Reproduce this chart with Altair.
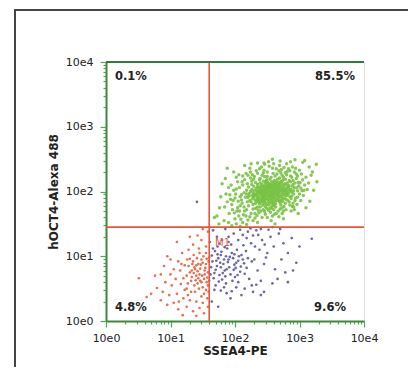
import math
import altair as alt
import pandas as pd

# ---- data (log10 fluorescence units) ----
green_pts = [
(2.31,1.95),(2.47,2.02),(2.62,1.88),(2.55,2.11),(2.38,1.81),(2.71,2.05),(2.44,1.92),(2.58,1.97),(2.66,2.14),(2.35,2.07),
(2.52,1.84),(2.79,1.99),(2.49,2.18),(2.27,1.89),(2.60,2.03),(2.73,1.91),(2.41,1.99),(2.57,1.77),(2.84,2.09),(2.33,1.86),
(2.64,1.95),(2.46,2.09),(2.69,2.21),(2.53,1.91),(2.22,1.97),(2.77,2.12),(2.59,1.83),(2.39,2.13),(2.81,1.94),(2.50,2.00),
(2.43,1.79),(2.67,1.99),(2.30,2.02),(2.56,2.06),(2.74,1.85),(2.48,1.88),(2.61,2.17),(2.36,1.93),(2.87,2.03),(2.54,1.95),
(2.25,1.84),(2.70,2.08),(2.45,2.04),(2.63,1.81),(2.51,2.14),(2.78,2.19),(2.40,1.87),(2.58,2.01),(2.34,1.99),(2.68,1.93),
(2.90,2.11),(2.47,1.96),(2.55,1.89),(2.29,2.08),(2.72,2.01),(2.60,1.92),(2.42,2.11),(2.65,2.07),(2.52,1.79),(2.83,1.97),
(2.37,1.90),(2.49,2.05),(2.76,1.89),(2.57,2.15),(2.32,1.82),(2.62,2.00),(2.44,1.85),(2.71,2.16),(2.53,2.03),(2.20,1.91),
(2.80,2.05),(2.46,1.91),(2.66,1.86),(2.39,2.04),(2.59,1.94),(2.74,1.97),(2.28,1.98),(2.51,2.09),(2.86,2.15),(2.63,2.12),
(2.41,1.94),(2.56,1.85),(2.69,2.02),(2.35,2.11),(2.48,1.99),(2.78,1.93),(2.61,1.78),(2.43,2.07),(2.54,2.19),(2.67,1.90),
(2.31,1.87),(2.58,2.08),(2.73,2.10),(2.45,1.82),(2.82,2.00),(2.50,1.94),(2.64,2.04),(2.38,1.97),(2.92,2.06),(2.55,2.00),
(2.26,2.03),(2.70,1.83),(2.47,2.13),(2.60,1.97),(2.75,2.07),(2.42,1.89),(2.57,1.92),(2.33,2.05),(2.68,2.11),(2.52,1.87),
(2.85,1.92),(2.44,2.01),(2.62,1.84),(2.36,1.84),(2.77,2.02),(2.50,2.10),(2.65,1.96),(2.40,2.08),(2.58,1.81),(2.72,1.94),
(2.29,1.93),(2.53,2.06),(2.81,2.13),(2.46,1.86),(2.63,2.09),(2.37,2.01),(2.56,1.98),(2.74,2.17),(2.49,1.80),(2.67,2.03),
(2.23,1.86),(2.59,2.13),(2.79,1.88),(2.43,1.97),(2.61,2.06),(2.34,1.92),(2.54,1.93),(2.70,1.98),(2.48,2.16),(2.88,1.99),
(2.39,1.83),(2.57,2.04),(2.66,1.92),(2.45,2.07),(2.76,2.04),(2.52,1.97),(2.30,1.96),(2.64,1.87),(2.41,2.03),(2.83,2.07),
(2.55,1.94),(2.69,2.13),(2.47,1.83),(2.60,2.10),(2.35,1.88),(2.73,1.88),(2.51,2.02),(2.62,1.99),(2.44,1.95),(2.78,2.10),
(2.27,1.94),(2.58,1.86),(2.68,2.06),(2.42,1.91),(2.53,2.12),(2.75,2.00),(2.38,2.06),(2.65,2.01),(2.50,1.89),(2.86,2.01),
(2.46,2.00),(2.61,1.91),(2.72,2.14),(2.33,1.95),(2.56,2.09),(2.80,1.96),(2.43,1.88),(2.67,1.97),(2.49,2.07),(2.59,1.90),
(2.36,1.98),(2.71,1.92),(2.54,1.82),(2.63,2.15),(2.40,2.00),(2.77,1.95),(2.52,2.05),(2.66,2.09),(2.45,1.93),(2.89,2.08),
(2.24,2.00),(2.57,1.96),(2.74,2.03),(2.48,1.93),(2.62,2.07),(2.37,1.87),(2.84,2.04),(2.55,2.08),(2.69,1.87),(2.41,1.96),
(2.05,1.85),(2.12,2.10),(2.18,1.72),(2.95,2.20),(3.02,2.05),(2.90,1.82),(2.10,1.95),(2.15,2.18),(2.98,2.14),(2.08,1.78),
(2.20,2.25),(2.35,2.28),(2.50,2.30),(2.65,2.27),(2.80,2.26),(2.92,2.30),(3.05,2.18),(2.40,1.70),(2.55,1.68),(2.70,1.73),
(2.85,1.79),(2.00,1.90),(1.98,2.02),(2.03,1.70),(2.13,1.64),(2.25,1.66),(2.32,1.74),(2.44,1.72),(2.60,1.72),(2.76,1.77),
(2.94,1.90),(3.00,1.96),(3.08,2.10),(2.97,2.24),(2.85,2.32),(2.72,2.34),(2.58,2.36),(2.45,2.33),(2.30,2.23),(2.18,2.02),
(1.95,1.80),(1.92,1.95),(2.07,2.06),(2.11,1.82),(2.16,1.91),(2.21,1.78),(2.19,2.12),(2.26,2.16),(2.93,1.86),(2.97,2.01),
(3.03,2.27),(2.88,2.22),(2.78,2.29),(2.62,2.24),(2.42,2.25),(2.28,1.73),(2.37,1.67),(2.52,1.71),(2.67,1.70),(2.82,1.86),
(2.01,1.96),(1.96,1.72),(2.06,1.62),(2.15,1.70),(2.23,1.61),(2.34,1.63),(2.47,1.65),(2.64,1.66),(2.79,1.72),(2.91,1.76),
(3.06,1.94),(3.10,2.22),(3.00,2.33),(2.89,2.38),(2.69,2.40),(2.53,2.39),(2.38,2.35),(2.24,2.30),(2.12,2.24),(2.04,2.15),
(1.90,2.06),(1.88,1.84),(1.99,1.67),(2.09,1.57),(2.20,1.56),(2.31,1.59),(2.42,1.60),(2.58,1.62),(2.73,1.66),(2.87,1.70),
(2.96,1.80),(3.12,2.03),(3.14,2.13),(2.94,2.36),(2.76,2.37),(2.60,2.43),(2.46,2.42),(2.33,2.32),(2.17,2.28),(2.02,2.22),
(1.86,1.96),(1.93,1.88),(2.04,1.75),(2.14,1.76),(2.22,1.93),(2.29,2.19),(2.90,2.17),(2.99,2.09),(2.84,1.84),(2.71,1.79),
(2.57,1.74),(2.39,1.76),(2.27,2.26),(2.46,2.23),(2.68,2.32),(2.83,2.35),(2.95,2.27),(3.04,2.01),(2.91,1.96),(2.10,1.87),
(1.72,1.62),(1.78,1.92),(1.83,1.55),(1.80,2.12),(1.75,1.50),(1.90,1.52),(1.95,1.47),(2.02,1.50),(2.18,1.49),(2.35,1.52),
(2.56,1.55),(2.75,1.58),(2.98,1.66),(3.16,1.85),(3.20,2.30),(3.26,2.42),(3.15,2.38),(3.05,2.45),(2.93,2.49),(2.70,2.47),
(2.52,2.46),(2.35,2.44),(2.15,2.40),(1.98,2.30),(1.85,2.20),(2.58,2.50),(2.86,2.46),(3.08,2.48),(3.22,2.02),(3.27,2.15),
(1.68,1.60),(1.76,1.75),(2.25,2.43),(2.45,2.44),(2.80,2.43),(3.10,1.75),(2.08,1.46),(2.62,1.50),(1.88,2.36),(3.18,2.25),
(2.14,1.98),(2.21,2.07),(2.28,1.80),(2.36,1.71),(2.49,1.74),(2.63,1.76),(2.78,1.82),(2.88,1.93),(2.96,2.06),(2.93,2.13),
(2.86,2.24),(2.73,2.25),(2.59,2.28),(2.44,2.29),(2.32,2.14),(2.19,1.84),(2.08,1.92),(2.02,2.04),(2.11,2.15),(2.24,2.21),
(2.39,2.20),(2.56,2.22),(2.71,2.29),(2.84,2.17),(2.97,1.91),(2.89,1.77),(2.75,1.70),(2.61,1.65),(2.46,1.69),(2.31,1.66),
(2.17,1.62),(2.07,1.70),(1.97,1.86),(1.94,2.10),(2.06,2.26),(2.23,2.36),(2.41,2.38),(2.64,2.35),(2.81,2.31),(3.01,2.14),
(3.07,2.02),(3.02,1.86),(2.92,1.72),(2.68,1.61),(2.50,1.60),(2.28,1.55),(2.12,1.52),(2.00,1.58),(1.91,1.66),(1.84,1.76),
(2.29,1.91),(2.34,2.01),(2.42,1.84),(2.50,2.23),(2.60,1.80),(2.69,1.84),(2.75,2.22),(2.82,2.09),(2.87,1.89),(2.44,2.16),
(2.38,2.18),(2.54,1.74),(2.66,2.19),(2.79,2.02),(2.91,2.01),(2.26,2.11),(2.18,1.96),(2.35,1.76),(2.47,1.77),(2.73,1.75),
]

blue_pts = [
(1.65,0.92),(1.72,0.85),(1.78,1.02),(1.84,0.78),(1.90,0.95),(1.69,1.08),(1.76,0.71),(1.82,0.88),(1.95,1.05),(2.01,0.82),
(1.67,0.66),(1.74,0.97),(1.88,1.12),(1.93,0.72),(2.05,0.93),(1.70,0.79),(1.80,0.64),(1.86,1.00),(1.99,0.87),(2.10,1.02),
(1.64,1.01),(1.77,0.90),(1.91,0.83),(2.03,1.10),(1.73,1.15),(1.85,0.69),(1.97,0.97),(2.08,0.76),(1.68,0.74),(1.79,1.07),
(1.89,0.91),(2.00,0.68),(2.14,0.89),(1.63,0.83),(1.75,0.61),(1.83,0.95),(1.94,1.18),(2.06,1.00),(1.71,0.93),(1.87,0.80),
(1.98,0.79),(2.12,0.95),(1.66,1.12),(1.81,0.74),(1.92,0.99),(2.02,0.90),(2.17,1.08),(1.78,0.83),(1.96,0.62),(2.09,0.84),
(1.62,0.72),(1.73,1.03),(1.86,0.58),(2.20,0.97),(1.90,1.22),(2.04,0.71),(1.70,0.55),(1.84,1.14),(2.15,0.73),(1.99,1.03),
(2.25,1.20),(2.30,0.95),(2.38,1.10),(2.22,0.65),(2.45,0.88),(2.28,1.32),(2.35,0.78),(2.18,1.28),(2.42,1.25),(2.50,1.05),
(2.26,0.55),(2.33,1.40),(2.40,0.62),(2.55,1.30),(2.48,0.98),(2.20,1.38),(2.12,1.33),(2.05,1.25),(1.98,1.35),(1.90,1.30),
(1.80,1.25),(1.72,1.30),(1.66,1.40),(1.85,1.42),(2.08,1.41),(2.24,1.43),(2.40,1.42),(2.52,1.41),(2.60,1.15),(2.68,1.35),
(2.75,1.20),(2.82,1.05),(2.88,1.28),(2.95,0.90),(2.90,0.78),(2.82,0.60),(2.72,0.95),(2.62,0.80),(2.58,0.58),(2.33,0.56),
(2.15,0.50),(2.02,0.52),(1.87,0.43),(1.78,0.47),(1.68,0.48),(1.74,0.22),(1.64,0.30),(1.93,0.35),(2.10,0.40),(2.28,0.45),
(2.40,0.40),(2.45,0.45),(2.66,0.65),(2.78,0.75),(3.19,1.27),(3.00,1.15),(2.70,1.42),(2.58,1.45),(2.36,1.33),(2.46,1.18),
(1.41,1.84),(2.18,0.82),(2.26,0.92),(2.31,1.15),(1.95,0.46),(1.83,0.52),(2.05,0.60),(1.76,1.19),(1.61,1.22),(2.13,1.17),
]

red_pts = [
(1.45,0.72),(1.52,0.65),(1.38,0.80),(1.55,0.88),(1.42,0.58),(1.48,0.95),(1.33,0.68),(1.58,0.75),(1.40,0.86),(1.50,0.52),
(1.35,0.92),(1.46,0.81),(1.56,0.60),(1.30,0.75),(1.43,0.66),(1.53,0.78),(1.37,0.55),(1.49,0.70),(1.59,0.92),(1.28,0.85),
(1.41,0.97),(1.55,0.48),(1.32,0.62),(1.47,0.87),(1.36,0.74),(1.57,0.67),(1.44,0.50),(1.25,0.70),(1.51,1.00),(1.39,0.63),
(1.27,0.58),(1.54,0.82),(1.34,0.88),(1.48,0.60),(1.22,0.86),(1.42,0.77),(1.58,0.55),(1.30,0.96),(1.45,1.05),(1.20,0.66),
(1.52,0.42),(1.38,0.45),(1.25,0.50),(1.15,0.78),(1.10,1.22),(1.18,1.05),(1.28,1.10),(1.35,1.18),(1.48,1.25),(1.55,1.15),
(1.42,1.32),(1.58,1.38),(1.50,1.42),(1.30,1.30),(1.12,0.92),(1.05,0.80),(1.00,0.95),(0.95,1.00),(1.08,0.65),(1.02,0.55),
(0.92,0.60),(0.85,0.72),(0.76,0.70),(0.51,0.66),(0.79,0.51),(0.63,0.37),(0.88,0.45),(0.98,0.40),(1.10,0.42),(1.20,0.35),
(1.30,0.32),(1.40,0.30),(1.50,0.28),(1.57,0.35),(1.45,0.20),(1.35,0.15),(1.25,0.22),(1.19,0.09),(1.12,0.18),(1.05,0.28),
(0.95,0.25),(0.85,0.32),(0.70,0.42),(1.52,0.12),(1.58,0.22),(1.40,0.08),(1.48,0.38),(1.32,0.45),(1.22,0.48),(1.16,0.57),
(1.60,0.98),(1.55,1.05),(1.44,1.12),(1.36,1.02),(1.26,0.95),(1.17,0.88),(1.60,0.62),(1.59,0.45),(1.50,0.90),(1.43,0.88),
(1.37,0.83),(1.46,0.62),(1.53,0.72),(1.40,0.70),(1.33,0.78),(1.56,0.96),(1.00,0.72),(0.90,0.85),(1.13,0.30),(1.27,0.40),
]

decades = [0, 1, 2, 3, 4]
tick_labels = ["10e0", "10e1", "10e2", "10e3", "10e4"]
gate_x = [1.6]
gate_y = [1.45]
quadrant_text = ["0.1%", "85.5%", "4.8%", "9.6%"]
populations = ["green", "blue", "red"]
pop_colors = ["#78c244", "#55559f", "#e2603f"]
pop_sizes = [12, 7, 7]

rows = []
for name, size, pts in zip(populations, pop_sizes, [green_pts, blue_pts, red_pts]):
    for x, y in pts:
        rows.append({"x": x, "y": y, "pop": name, "sz": size})
df = pd.DataFrame(rows)

tick_vals = []
for d in decades[:-1]:
    for k in range(1, 10):
        tick_vals.append(round(d + math.log10(k), 4))
tick_vals.append(decades[-1])

W, H = 258, 259
FONT = "DejaVu Sans"
major = " || ".join("datum.value == %d" % d for d in decades)
label_expr = ""
for d, lab in zip(decades, tick_labels):
    label_expr += "datum.value == %d ? '%s' : " % (d, lab)
label_expr += "''"

def make_axis(title, title_pad, label_pad):
    return alt.Axis(
        values=tick_vals, labelExpr=label_expr, title=title, grid=False,
        labelOverlap=False, labelFlush=False, labelFont=FONT, labelFontSize=11,
        labelColor="#222", labelPadding=label_pad,
        titleFont=FONT, titleFontSize=12, titleFontWeight="bold", titleColor="#222",
        titlePadding=title_pad,
        domainColor="#3a8a3a", domainWidth=2,
        tickColor="#5aa55a", tickWidth=1.2,
        tickSize={"condition": {"test": major, "value": 6}, "value": 3},
    )

xaxis = make_axis("SSEA4-PE", 2, 5)
yaxis = make_axis("hOCT4-Alexa 488", 5, 7)
xs = alt.Scale(domain=[0, 4], nice=False, zero=False)
ys = alt.Scale(domain=[0, 4], nice=False, zero=False)

points = alt.Chart(df).mark_circle(opacity=0.9).encode(
    x=alt.X("x:Q", scale=xs, axis=xaxis),
    y=alt.Y("y:Q", scale=ys, axis=yaxis),
    color=alt.Color("pop:N", scale=alt.Scale(domain=populations, range=pop_colors), legend=None),
    size=alt.Size("sz:Q", scale=None, legend=None),
)

vline = alt.Chart(pd.DataFrame({"gx": gate_x})).mark_rule(color="#e8553a", strokeWidth=1.6).encode(
    x=alt.X("gx:Q", scale=xs, axis=xaxis))
hline = alt.Chart(pd.DataFrame({"gy": gate_y})).mark_rule(color="#e8553a", strokeWidth=1.6).encode(
    y=alt.Y("gy:Q", scale=ys, axis=yaxis))

top_line = alt.Chart(pd.DataFrame({"a": [0]})).mark_rule(color="#2f7d3a", strokeWidth=2).encode(
    x=alt.value(0), x2=alt.value(W), y=alt.value(0))

frame = alt.Chart(pd.DataFrame({"a": [0]})).mark_rect(
    fill="white", fillOpacity=0, stroke="#444", strokeWidth=2).encode(
    x=alt.value(-91), x2=alt.value(600), y=alt.value(-52), y2=alt.value(600))

def qtext(txt, xpix, ypix, align):
    return alt.Chart(pd.DataFrame({"t": [txt]})).mark_text(
        font=FONT, fontSize=11.5, fontWeight="bold", color="#222", align=align, baseline="middle"
    ).encode(text="t:N", x=alt.value(xpix), y=alt.value(ypix))

labels = [
    qtext(quadrant_text[0], 9, 15, "left"),
    qtext(quadrant_text[1], 249, 15, "right"),
    qtext(quadrant_text[2], 9, 246, "left"),
    qtext(quadrant_text[3], 240, 246, "right"),
]

m1 = alt.Chart(pd.DataFrame({"t": ["M1"]})).mark_text(
    font=FONT, fontSize=10, color="#e2603f", align="left", baseline="middle"
).encode(text="t:N", x=alt.value(109), y=alt.value(181))

chart = alt.layer(frame, points, vline, hline, top_line, m1, *labels).properties(
    width=W, height=H,
    autosize=alt.AutoSizeParams(type="none"),
    padding={"left": 98, "top": 54, "right": 44, "bottom": 46},
).configure_view(stroke="#cfe6cc", strokeWidth=1.5).configure(background="white")

chart.save("out.html", embed_options={"renderer": "svg", "actions": False})
